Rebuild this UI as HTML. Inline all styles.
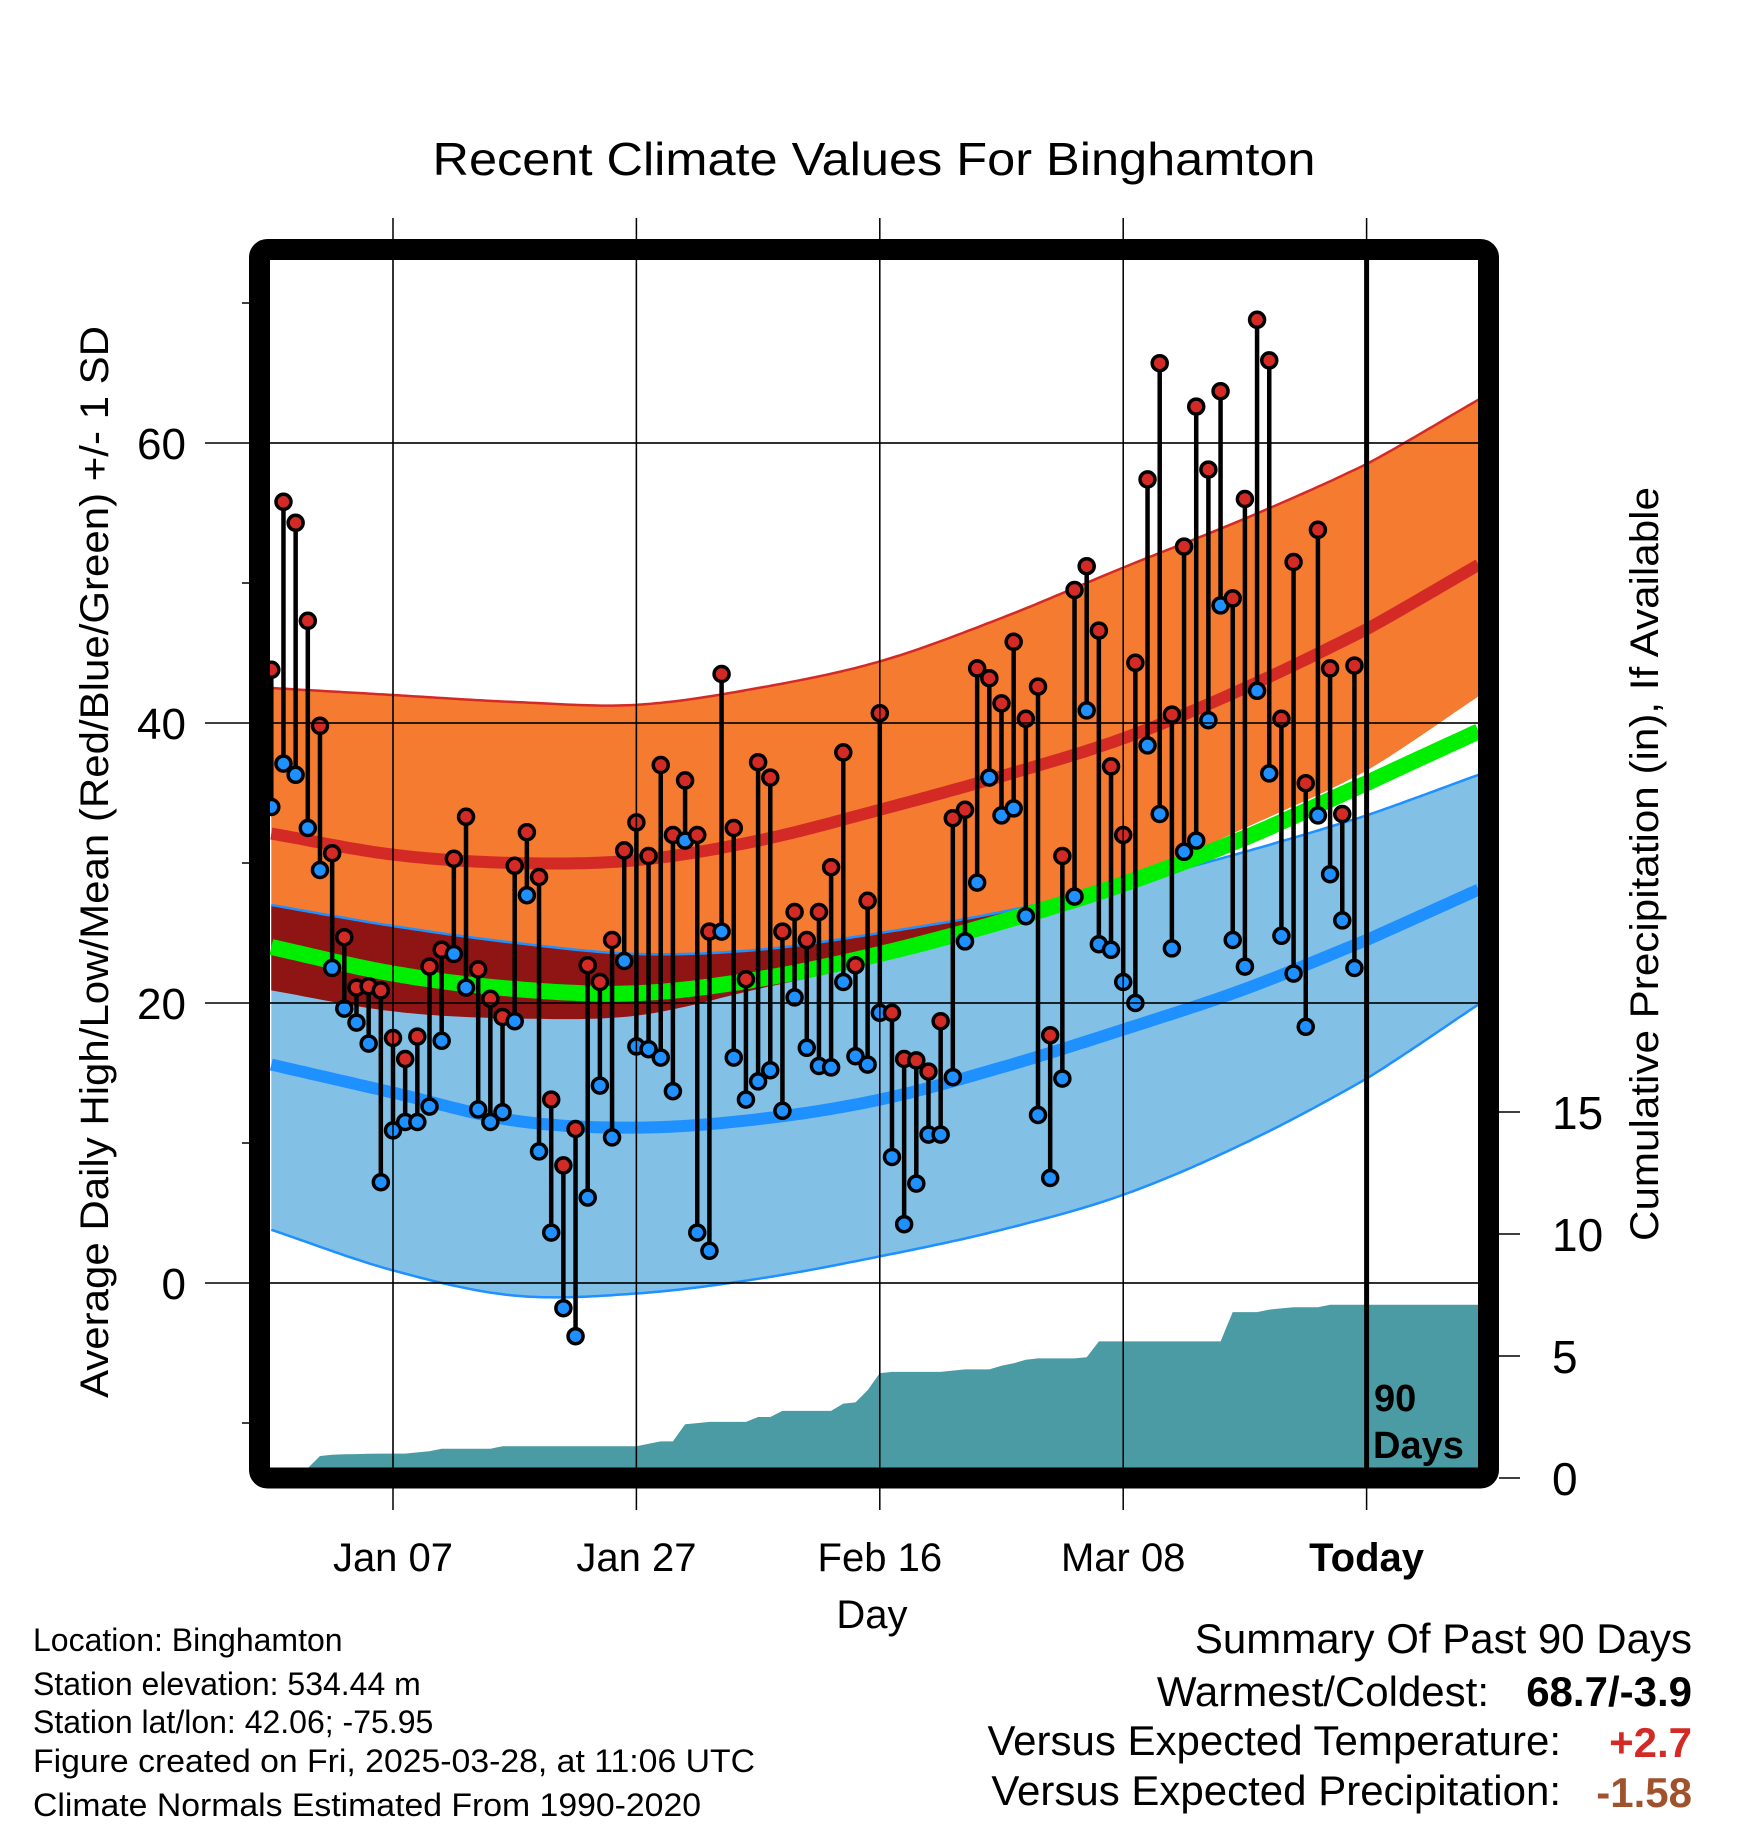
<!DOCTYPE html>
<html><head><meta charset="utf-8"><style>
html,body{margin:0;padding:0;background:#fff;}
svg{display:block;font-family:"Liberation Sans",sans-serif;}
</style></head><body>
<svg id="chart" width="1748" height="1828" viewBox="0 0 1748 1828" xmlns="http://www.w3.org/2000/svg">
<rect width="1748" height="1828" fill="#fff"/>
<text x="874" y="175" font-size="46" text-anchor="middle" textLength="883" lengthAdjust="spacingAndGlyphs">Recent Climate Values For Binghamton</text>
<g id="plot"></g>
<text transform="translate(108,862) rotate(-90)" font-size="40" text-anchor="middle" textLength="1072" lengthAdjust="spacingAndGlyphs">Average Daily High/Low/Mean (Red/Blue/Green) +/- 1 SD</text>
<text transform="translate(1658,864) rotate(-90)" font-size="40" text-anchor="middle" textLength="754" lengthAdjust="spacingAndGlyphs">Cumulative Precipitation (in), If Available</text>
<text x="872" y="1628" font-size="40" text-anchor="middle">Day</text>
<g font-size="32">
<text x="33" y="1651">Location: Binghamton</text>
<text x="33" y="1695">Station elevation: 534.44 m</text>
<text x="33" y="1733">Station lat/lon: 42.06; -75.95</text>
<text x="33" y="1772" textLength="722" lengthAdjust="spacingAndGlyphs">Figure created on Fri, 2025-03-28, at 11:06 UTC</text>
<text x="33" y="1816" textLength="668" lengthAdjust="spacingAndGlyphs">Climate Normals Estimated From 1990-2020</text>
</g>
<g font-size="42">
<text x="1692" y="1653" text-anchor="end">Summary Of Past 90 Days</text>
<text x="1489" y="1706" text-anchor="end">Warmest/Coldest:</text>
<text x="1692" y="1706" text-anchor="end" font-weight="bold">68.7/-3.9</text>
<text x="1561" y="1755" text-anchor="end">Versus Expected Temperature:</text>
<text x="1692" y="1757" text-anchor="end" font-weight="bold" fill="#d42a26">+2.7</text>
<text x="1561" y="1805" text-anchor="end">Versus Expected Precipitation:</text>
<text x="1692" y="1807" text-anchor="end" font-weight="bold" fill="#a0522d">-1.58</text>
</g>
</svg>
<script>
const highs=[43.8,55.8,54.3,47.3,39.8,30.7,24.7,21.1,21.2,20.9,17.5,16.0,17.6,22.6,23.8,30.3,33.3,22.4,20.3,19.0,29.8,32.2,29.0,13.1,8.4,11.0,22.7,21.5,24.5,30.9,32.9,30.5,37.0,32.0,35.9,32.0,25.1,43.5,32.5,21.7,37.2,36.1,25.1,26.5,24.5,26.5,29.7,37.9,22.7,27.3,40.7,19.3,16.0,15.9,15.1,18.7,33.2,33.8,43.9,43.2,41.4,45.8,40.3,42.6,17.7,30.5,49.5,51.2,46.6,36.9,32.0,44.3,57.4,65.7,40.6,52.6,62.6,58.1,63.7,48.9,56.0,68.8,65.9,40.3,51.5,35.7,53.8,43.9,33.5,44.1];
const lows=[34.0,37.1,36.3,32.5,29.5,22.5,19.6,18.6,17.1,7.2,10.9,11.5,11.5,12.6,17.3,23.5,21.1,12.4,11.5,12.2,18.7,27.7,9.4,3.6,-1.8,-3.8,6.1,14.1,10.4,23.0,16.9,16.7,16.1,13.7,31.6,3.6,2.3,25.1,16.1,13.1,14.4,15.2,12.3,20.4,16.8,15.5,15.4,21.5,16.2,15.6,19.3,9.0,4.2,7.1,10.6,10.6,14.7,24.4,28.6,36.1,33.4,33.9,26.2,12.0,7.5,14.6,27.6,40.9,24.2,23.8,21.5,20.0,38.4,33.5,23.9,30.8,31.6,40.2,48.4,24.5,22.6,42.3,36.4,24.8,22.1,18.3,33.4,29.2,25.9,22.5];
const precipCum=[0,0,0,0.4,0.9,0.95,0.97,0.98,0.99,1.0,1.0,1.0,1.05,1.1,1.2,1.2,1.2,1.2,1.2,1.3,1.3,1.3,1.3,1.3,1.3,1.3,1.3,1.3,1.3,1.3,1.3,1.4,1.5,1.5,2.2,2.25,2.3,2.3,2.3,2.3,2.5,2.5,2.75,2.75,2.75,2.75,2.75,3.05,3.1,3.6,4.3,4.35,4.35,4.35,4.35,4.35,4.4,4.45,4.45,4.45,4.6,4.7,4.85,4.9,4.9,4.9,4.9,4.95,5.6,5.6,5.6,5.6,5.6,5.6,5.6,5.6,5.6,5.6,5.6,6.8,6.8,6.8,6.9,6.95,7.0,7.0,7.0,7.1,7.1,7.1];
const normDays=[0,10,20,30,40,50,60,70,80,90,99.2];
const normHigh=[32.1,30.6,30.0,30.2,31.6,33.8,36.2,38.9,42.5,46.7,51.3];
const highUpper=[42.5,42.0,41.5,41.3,42.5,44.4,47.5,51.1,54.6,58.5,63.1];
const highLower=[20.9,19.4,18.9,19.1,21.0,23.0,25.8,28.7,32.5,36.6,41.9];
const normLow=[15.6,13.6,11.6,11.1,11.7,13.1,15.4,18.1,21.0,24.5,28.1];
const lowUpper=[27.0,25.5,24.3,23.5,23.8,25.0,26.5,28.5,30.8,33.4,36.3];
const lowLower=[3.8,0.9,-0.9,-0.75,0.3,1.9,3.8,6.3,10.0,14.6,19.9];
const normMean=[24.0,22.1,21.0,20.7,21.7,23.5,25.8,28.5,31.8,35.7,39.4];
const yTicks=[0,20,40,60];
const pTicks=[0,5,10,15];
const xTickDays=[10,30,50,70,90];
const xTickLabels=["Jan 07","Jan 27","Feb 16","Mar 08","Today"];

const L=270,R=1478,T=260,B=1468;
const X=d=>271.3+d*12.17;
const Y=t=>1283-t*14.0;
const P=p=>1478-p*24.4;
const NS="http://www.w3.org/2000/svg";
const g=document.getElementById('plot');
function el(tag,attrs,parent){const e=document.createElementNS(NS,tag);for(const k in attrs)e.setAttribute(k,attrs[k]);(parent||g).appendChild(e);return e;}
function interp(arr,d){
  let i=0;while(i<normDays.length-2&&d>normDays[i+1])i++;
  const t=(d-normDays[i])/(normDays[i+1]-normDays[i]);
  const n=arr.length;
  const p1=arr[i],p2=arr[i+1];
  const p0=i>0?arr[i-1]:2*arr[0]-arr[1];
  const p3=i+2<n?arr[i+2]:2*arr[n-1]-arr[n-2];
  return 0.5*((2*p1)+(-p0+p2)*t+(2*p0-5*p1+4*p2-p3)*t*t+(-p0+3*p1-3*p2+p3)*t*t*t);
}
const samples=[];for(let d=0;d<=99.2;d+=0.4)samples.push(d);samples.push(99.2);
function linePts(arr){return samples.map(d=>X(d).toFixed(1)+','+Y(interp(arr,d)).toFixed(1));}
function band(upA,loA){const up=linePts(upA),lo=linePts(loA).reverse();return 'M'+up.join('L')+'L'+lo.join('L')+'Z';}

const defs=el('defs',{});
const cp=el('clipPath',{id:'pc'},defs);el('rect',{x:L,y:T,width:R-L,height:B-T},cp);
const pg=el('g',{'clip-path':'url(#pc)'});
yTicks.forEach(v=>{const l=el('line',{x1:205,x2:R,y1:Y(v),y2:Y(v),stroke:'#000','stroke-width':1.5});});
xTickDays.forEach(d=>{const l=el('line',{x1:X(d),x2:X(d),y1:218,y2:1510,stroke:'#000','stroke-width':1.5});});
[-10,10,30,50,70].forEach(v=>{const l=el('line',{x1:242,x2:258,y1:Y(v),y2:Y(v),stroke:'#000','stroke-width':1.5});});
let pd='M'+X(0)+','+P(0);
precipCum.forEach((v,i)=>{pd+='L'+X(i).toFixed(1)+','+P(v).toFixed(1);});
pd+='L'+R+','+P(precipCum[precipCum.length-1])+'L'+R+','+B+'L'+X(0)+','+B+'Z';
const pa=el('path',{d:pd,fill:'#4a9ba4'},pg);

const ob=el('path',{d:band(highUpper,highLower),fill:'#f47b30'},pg);

const bb=el('path',{d:band(lowUpper,lowLower),fill:'#82c0e6'},pg);

const ovUp=samples.map(d=>X(d).toFixed(1)+','+Y(interp(lowUpper,d)).toFixed(1));
const ovLo=samples.map(d=>X(d).toFixed(1)+','+Y(Math.min(interp(highLower,d),interp(lowUpper,d))).toFixed(1)).reverse();
const ov=el('path',{d:'M'+ovUp.join('L')+'L'+ovLo.join('L')+'Z',fill:'#8f1414'},pg);

function line(arr,color,w,name){const p=el('polyline',{points:linePts(arr).join(' '),fill:'none',stroke:color,'stroke-width':w},pg);}
line(highUpper,'#d42a26',2.5,'high-upper-edge');
line(lowUpper,'#1e90ff',2.5,'low-upper-edge');
line(lowLower,'#1e90ff',2.5,'low-lower-edge');
line(normHigh,'#d42a26',12,'normal-high-line');
line(normLow,'#1e90ff',12,'normal-low-line');
line(normMean,'#00ee00',16,'normal-mean-line');
yTicks.forEach(v=>{const l=el('line',{x1:L,x2:R,y1:Y(v),y2:Y(v),stroke:'#000','stroke-width':1.2},pg);});
xTickDays.slice(0,4).forEach(d=>{const l=el('line',{x1:X(d),x2:X(d),y1:T,y2:B,stroke:'#000','stroke-width':1.2},pg);});
highs.forEach((h,i)=>{
  const s=el('line',{x1:X(i),x2:X(i),y1:Y(h),y2:Y(lows[i]),stroke:'#000','stroke-width':4.5},pg);
  
});
highs.forEach((h,i)=>{
  const c=el('circle',{cx:X(i),cy:Y(h),r:7.5,fill:'#d42a26',stroke:'#000','stroke-width':3.5},pg);
  
  const c2=el('circle',{cx:X(i),cy:Y(lows[i]),r:7.5,fill:'#1e90ff',stroke:'#000','stroke-width':3.5},pg);
  
});
const tl=el('line',{x1:X(90),x2:X(90),y1:T,y2:B,stroke:'#000','stroke-width':5},pg);

const t1=el('text',{x:1374,y:1411,'font-size':38,'font-weight':'bold'},pg);t1.textContent='90';

const t2=el('text',{x:1373,y:1458,'font-size':38,'font-weight':'bold'},pg);t2.textContent='Days';

const fr=el('rect',{x:259.5,y:249.5,width:1229,height:1228.5,rx:8,fill:'none',stroke:'#000','stroke-width':21});

yTicks.forEach(v=>{const t=el('text',{x:186,y:Y(v)+16,'font-size':44,'text-anchor':'end'});t.textContent=v;
});
pTicks.forEach(v=>{const l=el('line',{x1:1499,x2:1520,y1:P(v),y2:P(v),stroke:'#000','stroke-width':1.5});
const t=el('text',{x:1552,y:P(v)+17,'font-size':46});t.textContent=v;});
xTickDays.forEach((d,i)=>{const t=el('text',{x:X(d),y:1571,'font-size':40,'text-anchor':'middle','font-weight':i==4?'bold':'normal'});t.textContent=xTickLabels[i];
});
</script>
</body></html>
